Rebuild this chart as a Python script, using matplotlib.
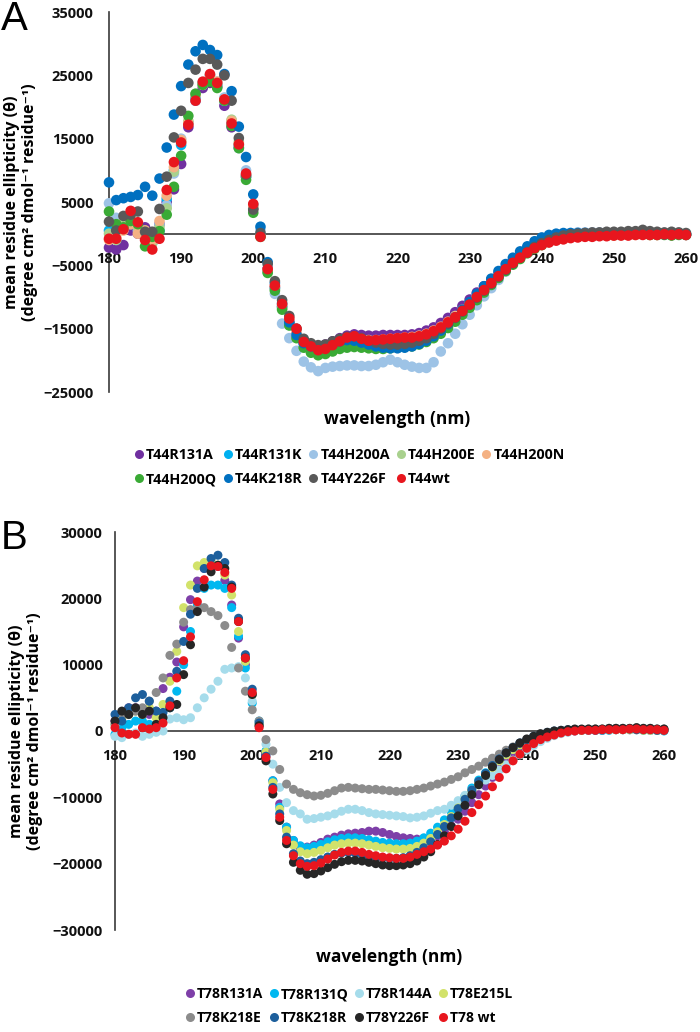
import numpy as np
import matplotlib
matplotlib.use('Agg')
import matplotlib.pyplot as plt
from matplotlib.lines import Line2D

plt.rcParams['font.family'] = ['Open Sans', 'DejaVu Sans']
plt.rcParams['font.weight'] = 'bold'

# wavelength (nm), one reading per nm
wavelength = np.arange(180, 261)

# ---- panel A: T44 variants, ellipticity in units of 1000 ----
a_labels = ['T44R131A', 'T44R131K', 'T44H200A', 'T44H200E', 'T44H200N',
            'T44H200Q', 'T44K218R', 'T44Y226F', 'T44wt']
a_colors = ['#7030A0', '#00B0F0', '#9DC3E6', '#A9D18E', '#F4B183',
            '#3AAA35', '#0070C0', '#595959', '#E8161E']

t44r131a = [-2.2, -2.5, -1.8, 0.5, 0.0, 1.0, -0.5, 1.5, 5.0, 7.0,
            11.0, 16.8, 21.0, 23.0, 23.8, 23.2, 20.2, 16.8, 13.6, 9.0,
            4.0, -0.3, -5.5, -8.5, -11.5, -14.0, -15.8, -17.0, -17.6, -17.8,
            -17.5, -17.0, -16.5, -16.1, -15.9, -16.0, -16.1, -16.1, -16.0, -16.0,
            -16.0, -16.0, -15.9, -15.7, -15.3, -14.8, -14.1, -13.3, -12.4, -11.4,
            -10.4, -9.3, -8.3, -7.3, -6.3, -5.3, -4.4, -3.6, -2.8, -2.1,
            -1.6, -1.2, -0.9, -0.6, -0.5, -0.4, -0.3, -0.3, -0.2, -0.2,
            -0.2, -0.1, -0.1, 0.0, 0.1, 0.0, -0.1, -0.1, -0.2, -0.1,
            -0.2]
t44r131k = [0.5, 0.0, 1.2, 2.0, 1.0, -0.5, -1.0, 0.5, 5.5, 10.0,
            14.0, 17.5, 21.5, 23.8, 25.0, 23.5, 21.0, 17.6, 14.0, 9.0,
            4.5, -0.2, -5.8, -8.6, -11.6, -14.2, -16.0, -17.4, -18.1, -18.6,
            -18.4, -17.9, -17.3, -16.8, -16.6, -16.9, -17.1, -17.2, -17.2, -17.1,
            -17.0, -16.9, -16.8, -16.5, -16.1, -15.5, -14.8, -14.0, -13.1, -12.1,
            -11.0, -9.9, -8.8, -7.7, -6.6, -5.5, -4.5, -3.6, -2.8, -2.1,
            -1.5, -1.0, -0.7, -0.5, -0.3, -0.2, -0.1, -0.1, 0.0, 0.0,
            0.0, 0.1, 0.0, 0.1, 0.1, 0.0, 0.0, -0.1, 0.0, -0.1,
            -0.1]
t44h200a = [4.8, 2.5, 1.0, 1.5, 0.5, 0.0, -1.5, 1.5, 4.5, 9.5,
            15.0, 17.5, 21.0, 23.5, 24.5, 24.0, 21.5, 17.8, 13.5, 10.0,
            4.6, 0.5, -6.0, -9.5, -14.2, -16.5, -18.5, -20.2, -21.1, -21.7,
            -21.2, -21.0, -20.9, -20.8, -20.8, -20.9, -20.9, -20.7, -20.3, -19.9,
            -20.3, -20.7, -21.0, -21.2, -21.2, -20.3, -18.6, -17.3, -15.8, -14.3,
            -12.8, -11.3, -9.9, -8.6, -7.3, -6.0, -4.8, -3.8, -2.8, -1.9,
            -1.2, -0.6, -0.2, 0.0, 0.1, 0.2, 0.2, 0.2, 0.2, 0.1,
            0.1, 0.1, 0.1, 0.1, 0.2, 0.1, 0.0, 0.0, 0.0, -0.1,
            -0.1]
t44h200e = [0.0, -1.0, 2.0, 2.5, 1.0, 0.5, -1.5, 1.0, 4.0, 9.8,
            14.5, 17.8, 22.0, 23.8, 24.5, 23.5, 21.0, 18.0, 14.5, 9.0,
            4.0, -0.4, -6.0, -8.8, -11.8, -14.4, -16.4, -17.9, -18.6, -19.0,
            -18.8, -18.4, -18.0, -17.7, -17.6, -17.7, -17.8, -17.9, -17.9, -17.8,
            -17.7, -17.6, -17.5, -17.2, -16.8, -16.2, -15.5, -14.6, -13.6, -12.5,
            -11.4, -10.2, -9.0, -7.9, -6.8, -5.7, -4.7, -3.8, -3.0, -2.3,
            -1.7, -1.2, -0.8, -0.5, -0.4, -0.3, -0.2, -0.2, -0.1, -0.1,
            -0.1, -0.1, 0.0, 0.0, 0.0, -0.1, -0.1, -0.1, -0.2, -0.1,
            -0.1]
t44h200n = [-1.0, -0.5, 0.5, 1.5, 0.0, 0.5, -1.0, 2.0, 6.0, 10.5,
            14.8, 17.5, 21.8, 23.5, 25.0, 24.0, 21.2, 17.8, 14.2, 9.2,
            4.3, -0.3, -5.7, -8.4, -11.3, -13.8, -15.5, -17.0, -17.7, -18.2,
            -18.0, -17.5, -16.9, -16.5, -16.3, -16.6, -16.8, -16.8, -16.7, -16.6,
            -16.5, -16.4, -16.3, -16.1, -15.8, -15.3, -14.7, -13.9, -13.0, -12.0,
            -11.0, -9.9, -8.8, -7.7, -6.6, -5.6, -4.6, -3.7, -2.9, -2.2,
            -1.7, -1.3, -1.0, -0.8, -0.6, -0.5, -0.4, -0.4, -0.3, -0.3,
            -0.3, -0.2, -0.2, -0.2, -0.1, -0.2, -0.2, -0.1, -0.2, -0.1,
            -0.2]
t44h200q = [3.5, 1.5, 1.0, 2.0, 1.5, -2.0, -0.5, 0.4, 3.0, 7.4,
            12.3, 18.6, 22.1, 23.5, 24.0, 23.0, 21.0, 17.0, 13.5, 8.5,
            3.3, -0.5, -6.2, -9.0, -12.0, -14.5, -16.5, -18.0, -18.8, -19.2,
            -19.0, -18.6, -18.2, -18.0, -17.9, -18.0, -18.1, -18.2, -18.2, -18.1,
            -18.0, -17.9, -17.8, -17.5, -17.1, -16.5, -15.8, -14.9, -13.9, -12.8,
            -11.7, -10.5, -9.3, -8.1, -7.0, -5.9, -4.9, -4.0, -3.1, -2.4,
            -1.8, -1.3, -0.9, -0.6, -0.4, -0.3, -0.3, -0.2, -0.2, -0.2,
            -0.2, -0.2, -0.1, -0.1, -0.1, -0.2, -0.2, -0.2, -0.3, -0.2,
            -0.2]
t44k218r = [8.1, 5.3, 5.6, 5.8, 6.1, 7.4, 6.0, 8.7, 13.6, 18.8,
            23.3, 26.7, 28.8, 29.8, 29.0, 28.2, 25.2, 22.5, 16.9, 12.1,
            6.2, 1.1, -4.5, -7.8, -11.0, -14.0, -16.0, -17.3, -17.8, -18.0,
            -17.8, -17.4, -17.0, -16.8, -16.9, -17.2, -17.5, -17.8, -18.0, -18.1,
            -18.1, -18.0, -17.8, -17.4, -16.9, -16.2, -15.3, -14.3, -13.2, -12.0,
            -10.8, -9.5, -8.3, -7.1, -5.9, -4.8, -3.8, -2.8, -2.0, -1.2,
            -0.6, -0.2, 0.0, 0.1, 0.1, 0.1, 0.1, 0.0, 0.0, 0.0,
            0.0, 0.1, 0.1, 0.0, 0.1, 0.0, 0.0, -0.1, 0.0, 0.0,
            -0.1]
t44y226f = [1.9, 0.5, 2.8, 3.0, 3.5, 0.3, 0.3, 3.9, 9.0, 15.2,
            19.4, 23.8, 25.9, 27.6, 27.6, 26.7, 25.0, 21.0, 15.1, 9.3,
            3.8, 0.1, -4.8, -7.5, -10.5, -13.0, -15.0, -16.6, -17.3, -17.6,
            -17.5, -17.0, -16.6, -16.3, -16.2, -16.5, -16.9, -17.2, -17.4, -17.5,
            -17.5, -17.4, -17.2, -16.9, -16.5, -15.8, -15.0, -14.2, -13.3, -12.3,
            -11.2, -10.1, -9.0, -7.9, -6.8, -5.7, -4.7, -3.8, -2.9, -2.1,
            -1.5, -1.0, -0.6, -0.3, -0.1, 0.0, 0.1, 0.2, 0.2, 0.3,
            0.3, 0.3, 0.4, 0.4, 0.6, 0.4, 0.3, 0.2, 0.3, 0.2,
            0.1]
t44wt = [-0.8, -0.8, 0.7, 3.6, 1.8, -1.0, -2.5, -0.8, 6.9, 11.3,
         14.4, 17.2, 21.0, 24.0, 25.2, 23.8, 21.2, 17.4, 14.1, 9.5,
         4.7, -0.5, -5.6, -8.2, -11.1, -13.4, -15.0, -17.1, -17.8, -18.4,
         -18.2, -17.6, -17.0, -16.4, -16.2, -16.6, -16.9, -16.8, -16.7, -16.6,
         -16.5, -16.4, -16.4, -16.2, -15.9, -15.4, -14.8, -14.0, -13.2, -12.2,
         -11.2, -10.0, -8.9, -7.8, -6.7, -5.6, -4.6, -3.8, -3.0, -2.3,
         -1.8, -1.4, -1.1, -0.9, -0.7, -0.6, -0.5, -0.5, -0.4, -0.4,
         -0.3, -0.3, -0.3, -0.2, -0.2, -0.2, -0.2, -0.1, -0.2, -0.1,
         -0.2]
a_series = [t44r131a, t44r131k, t44h200a, t44h200e, t44h200n,
            t44h200q, t44k218r, t44y226f, t44wt]

# ---- panel B: T78 variants, ellipticity in units of 1000 ----
b_labels = ['T78R131A', 'T78R131Q', 'T78R144A', 'T78E215L',
            'T78K218E', 'T78K218R', 'T78Y226F', 'T78 wt']
b_colors = ['#7E3FA8', '#00B8F0', '#A6DCEB', '#D2E26A',
            '#8C8C8C', '#1D5F9C', '#262626', '#E8161E']

t78r131a = [1.5, 2.5, 3.5, 3.5, 3.0, 2.5, 3.0, 6.4, 8.1, 10.4,
            15.7, 19.8, 22.6, 24.5, 25.0, 24.8, 22.7, 19.0, 14.0, 10.0,
            5.5, 0.8, -3.5, -7.5, -11.0, -14.5, -16.5, -17.8, -17.5, -17.2,
            -16.8, -16.3, -16.0, -15.7, -15.5, -15.4, -15.3, -15.1, -15.1, -15.3,
            -15.6, -15.9, -16.1, -16.2, -16.3, -16.4, -16.2, -15.8, -15.2, -14.3,
            -13.3, -12.1, -10.8, -9.6, -8.3, -7.0, -5.8, -4.7, -3.7, -2.9,
            -2.2, -1.6, -1.1, -0.7, -0.4, -0.2, -0.1, 0.0, 0.1, 0.1,
            0.1, 0.1, 0.2, 0.2, 0.2, 0.2, 0.2, 0.2, 0.1, 0.1,
            0.1]
t78r131q = [-0.5, 0.5, 1.0, 1.5, 1.5, 1.0, 0.5, 1.5, 3.5, 6.0,
            10.0, 15.0, 19.0, 21.5, 22.0, 22.0, 21.5, 18.6, 14.3, 9.5,
            4.2, 1.5, -3.0, -7.5, -11.5, -14.5, -16.5, -17.3, -17.6, -17.4,
            -17.1, -16.7, -16.4, -16.2, -16.1, -16.1, -16.2, -16.4, -16.6, -16.8,
            -16.9, -17.0, -17.0, -16.9, -16.6, -16.1, -15.4, -14.5, -13.4, -12.2,
            -11.0, -9.8, -8.6, -7.4, -6.3, -5.3, -4.3, -3.5, -2.8, -2.1,
            -1.6, -1.1, -0.7, -0.4, -0.2, -0.1, 0.0, 0.1, 0.1, 0.1,
            0.1, 0.1, 0.1, 0.2, 0.2, 0.2, 0.2, 0.1, 0.1, 0.1,
            0.0]
t78r144a = [-0.8, -1.0, -0.5, -0.3, -0.8, -0.5, -0.2, 0.0, 1.8, 2.0,
            1.7, 2.0, 3.5, 5.0, 6.3, 7.5, 9.3, 9.5, 9.7, 8.0,
            4.5, 1.2, -2.0, -5.0, -8.5, -10.8, -12.0, -12.5, -13.3, -13.2,
            -13.0, -12.8, -12.5, -12.1, -11.8, -11.8, -12.0, -12.3, -12.5, -12.6,
            -12.7, -12.8, -12.9, -13.1, -13.0, -12.8, -12.4, -12.0, -11.8, -11.2,
            -10.5, -9.7, -8.9, -8.1, -7.4, -6.7, -5.9, -5.1, -4.4, -3.6,
            -2.9, -2.2, -1.6, -1.1, -0.7, -0.4, -0.2, 0.0, 0.1, 0.1,
            0.2, 0.2, 0.2, 0.2, 0.2, 0.2, 0.2, 0.2, 0.1, 0.1,
            0.1]
t78e215l = [1.0, 2.0, 2.5, 3.0, 2.5, 3.5, 2.0, 4.0, 7.5, 12.0,
            18.6, 22.0, 24.9, 25.4, 25.7, 25.0, 23.5, 20.5, 15.0, 10.5,
            5.5, 1.0, -3.2, -7.8, -11.8, -15.0, -17.2, -18.2, -18.5, -18.3,
            -18.0, -17.6, -17.2, -17.0, -16.9, -16.9, -17.0, -17.2, -17.4, -17.6,
            -17.7, -17.8, -17.8, -17.7, -17.4, -16.9, -16.2, -15.2, -14.1, -12.9,
            -11.6, -10.3, -9.0, -7.8, -6.6, -5.5, -4.5, -3.6, -2.8, -2.1,
            -1.5, -1.0, -0.6, -0.3, -0.1, 0.0, 0.1, 0.1, 0.1, 0.2,
            0.2, 0.2, 0.2, 0.2, 0.2, 0.2, 0.2, 0.1, 0.1, 0.1,
            0.1]
t78k218e = [1.0, 2.5, 2.5, 3.0, 3.5, 4.5, 5.8, 8.0, 11.4, 13.1,
            16.4, 18.3, 18.4, 18.6, 18.0, 17.4, 15.9, 12.6, 9.5, 6.0,
            3.2, 1.5, -1.3, -3.0, -5.8, -8.0, -8.8, -9.3, -9.6, -9.8,
            -9.7, -9.4, -9.0, -8.6, -8.5, -8.6, -8.7, -8.8, -8.8, -8.9,
            -9.0, -9.1, -9.1, -9.0, -8.8, -8.6, -8.3, -8.0, -7.7, -7.3,
            -6.9, -6.3, -5.8, -5.3, -4.7, -4.1, -3.5, -2.9, -2.4, -1.9,
            -1.4, -1.0, -0.7, -0.4, -0.2, 0.0, 0.1, 0.2, 0.2, 0.3,
            0.3, 0.3, 0.4, 0.4, 0.4, 0.4, 0.5, 0.4, 0.4, 0.3,
            0.3]
t78k218r = [2.5, 1.5, 3.5, 5.0, 5.5, 4.5, 3.0, 2.8, 4.5, 9.0,
            13.5, 17.6, 21.5, 24.5, 26.0, 26.5, 25.4, 22.0, 17.0, 11.5,
            6.3, 1.2, -3.8, -8.5, -12.5, -16.0, -18.5, -19.6, -20.0, -19.8,
            -19.4, -19.0, -18.6, -18.4, -18.3, -18.4, -18.6, -18.8, -19.0, -19.1,
            -19.2, -19.2, -19.1, -18.8, -18.3, -17.6, -16.7, -15.6, -14.4, -13.1,
            -11.7, -10.3, -8.9, -7.6, -6.4, -5.2, -4.2, -3.3, -2.5, -1.8,
            -1.3, -0.8, -0.5, -0.2, 0.0, 0.1, 0.2, 0.2, 0.2, 0.2,
            0.2, 0.2, 0.3, 0.3, 0.3, 0.3, 0.2, 0.2, 0.2, 0.1,
            0.1]
t78y226f = [1.5, 3.0, 2.5, 3.5, 2.5, 3.0, 1.0, 2.0, 3.5, 4.0,
            8.5, 13.0, 18.0, 21.7, 24.0, 25.0, 24.5, 21.7, 16.5, 11.0,
            5.5, 0.8, -4.5, -9.5, -13.5, -17.0, -19.8, -21.0, -21.6, -21.5,
            -21.1, -20.6, -20.1, -19.7, -19.5, -19.5, -19.6, -19.8, -20.0, -20.2,
            -20.3, -20.3, -20.2, -20.0, -19.6, -19.0, -18.2, -17.1, -15.8, -14.4,
            -12.8, -11.2, -9.6, -8.1, -6.7, -5.4, -4.3, -3.3, -2.5, -1.8,
            -1.2, -0.8, -0.4, -0.2, 0.0, 0.1, 0.2, 0.3, 0.3, 0.3,
            0.3, 0.3, 0.4, 0.4, 0.4, 0.4, 0.5, 0.4, 0.4, 0.3,
            0.3]
t78wt = [0.5, -0.3, -0.5, -0.5, 0.5, 0.3, 0.5, 1.2, 3.8, 8.0,
         10.6, 14.2, 19.5, 22.8, 24.9, 24.8, 23.9, 21.5, 16.5, 11.0,
         5.8, 0.5, -4.0, -8.8, -13.0, -16.5, -18.8, -20.0, -20.4, -20.3,
         -19.9, -19.3, -18.7, -18.3, -18.1, -18.1, -18.3, -18.6, -18.8, -19.0,
         -19.1, -19.2, -19.2, -19.0, -18.6, -18.2, -17.8, -17.2, -16.6, -15.8,
         -14.8, -13.6, -12.3, -11.1, -9.8, -8.4, -7.0, -5.7, -4.5, -3.5,
         -2.6, -1.9, -1.3, -0.9, -0.6, -0.3, -0.1, 0.0, 0.1, 0.1,
         0.1, 0.2, 0.2, 0.2, 0.2, 0.3, 0.3, 0.2, 0.2, 0.2,
         0.1]
b_series = [t78r131a, t78r131q, t78r144a, t78e215l,
            t78k218e, t78k218r, t78y226f, t78wt]

a_yticks = [-25000, -15000, -5000, 5000, 15000, 25000, 35000]
b_yticks = [-30000, -20000, -10000, 0, 10000, 20000, 30000]
x_ticks = [180, 190, 200, 210, 220, 230, 240, 250, 260]

ylabel_1 = 'mean residue ellipticity (θ)'
ylabel_2 = '(degree cm\u00b2 dmol\u207b\u00b9 residue\u207b\u00b9)'

W, H = 700, 1032
fig = plt.figure(figsize=(W / 100, H / 100), dpi=100)


def px_axes(left, right, top, bottom):
    # axes box from pixel edges
    return fig.add_axes([left / W, 1 - bottom / H, (right - left) / W, (bottom - top) / H])


def style_axes(ax, ylim, yticks, ypad):
    ax.set_xlim(180, 260)
    ax.set_ylim(*ylim)
    ax.set_xticks(x_ticks)
    ax.set_yticks(yticks)
    ax.spines['top'].set_visible(False)
    ax.spines['right'].set_visible(False)
    ax.spines['bottom'].set_position(('data', 0))
    for s in ['left', 'bottom']:
        ax.spines[s].set_color('#3a3a3a')
        ax.spines[s].set_linewidth(1.2)
        ax.spines[s].set_zorder(1)
    ax.tick_params(axis='x', length=0, pad=13, labelsize=10.5, colors='#111111')
    ax.tick_params(axis='y', length=0, pad=ypad, labelsize=10.5, colors='#111111')
    ax.patch.set_visible(False)


def col_major(items, ncol):
    # matplotlib fills legend columns first; reorder so rows read left to right
    nrow = int(np.ceil(len(items) / ncol))
    out = []
    for c in range(ncol):
        for r in range(nrow):
            i = r * ncol + c
            if i < len(items):
                out.append(items[i])
    return out


def add_legend(labels, colors, ncol, yc, size, colspace):
    handles = [Line2D([], [], marker='o', linestyle='', markersize=6.5,
                      markerfacecolor=c, markeredgecolor='none') for c in colors]
    fig.legend(col_major(handles, ncol), col_major(labels, ncol), ncol=ncol,
               loc='center', bbox_to_anchor=(0.5, 1 - yc / H), frameon=False,
               prop={'size': size, 'weight': 'bold'}, handlelength=0.5,
               handletextpad=0.25, columnspacing=colspace, labelspacing=0.7,
               borderpad=0)


# ---- panel A ----
axA = px_axes(109, 686, 12, 392)
for vals, c, lab in zip(a_series, a_colors, a_labels):
    axA.scatter(wavelength, np.array(vals) * 1000, s=58, color=c,
                edgecolors='none', zorder=3, clip_on=False, label=lab)
style_axes(axA, (-25000, 35000), a_yticks, 11)
axA.set_xlabel('wavelength (nm)', fontsize=12.5, fontweight='bold')
axA.xaxis.set_label_coords(0.5, -(410 - 392) / 380)
fig.text(21 / W, 1 - 202 / H, ylabel_1 + '\n' + ylabel_2, rotation=90,
         ha='center', va='center', multialignment='center', fontsize=11.5,
         fontweight='bold', linespacing=1.2)
fig.text(1 / W, 1 - 0 / H, 'A', fontsize=29, fontweight='normal',
         family='Liberation Sans', ha='left', va='top')
add_legend(a_labels, a_colors, 5, 467, 10.3, 0.5)

# ---- panel B ----
axB = px_axes(115, 664, 532, 930)
for vals, c, lab in zip(b_series, b_colors, b_labels):
    axB.scatter(wavelength, np.array(vals) * 1000, s=42, color=c,
                edgecolors='none', zorder=3, clip_on=False, label=lab)
style_axes(axB, (-30000, 30000), b_yticks, 9)
axB.set_xlabel('wavelength (nm)', fontsize=12.5, fontweight='bold')
axB.xaxis.set_label_coords(0.5, -(948 - 930) / 398)
fig.text(26 / W, 1 - 731 / H, ylabel_1 + '\n' + ylabel_2, rotation=90,
         ha='center', va='center', multialignment='center', fontsize=11.5,
         fontweight='bold', linespacing=1.2)
fig.text(1 / W, 1 - 519 / H, 'B', fontsize=29, fontweight='normal',
         family='Liberation Sans', ha='left', va='top')
add_legend(b_labels, b_colors, 4, 1006, 10, 0.5)

fig.savefig('out.png', dpi=100)
